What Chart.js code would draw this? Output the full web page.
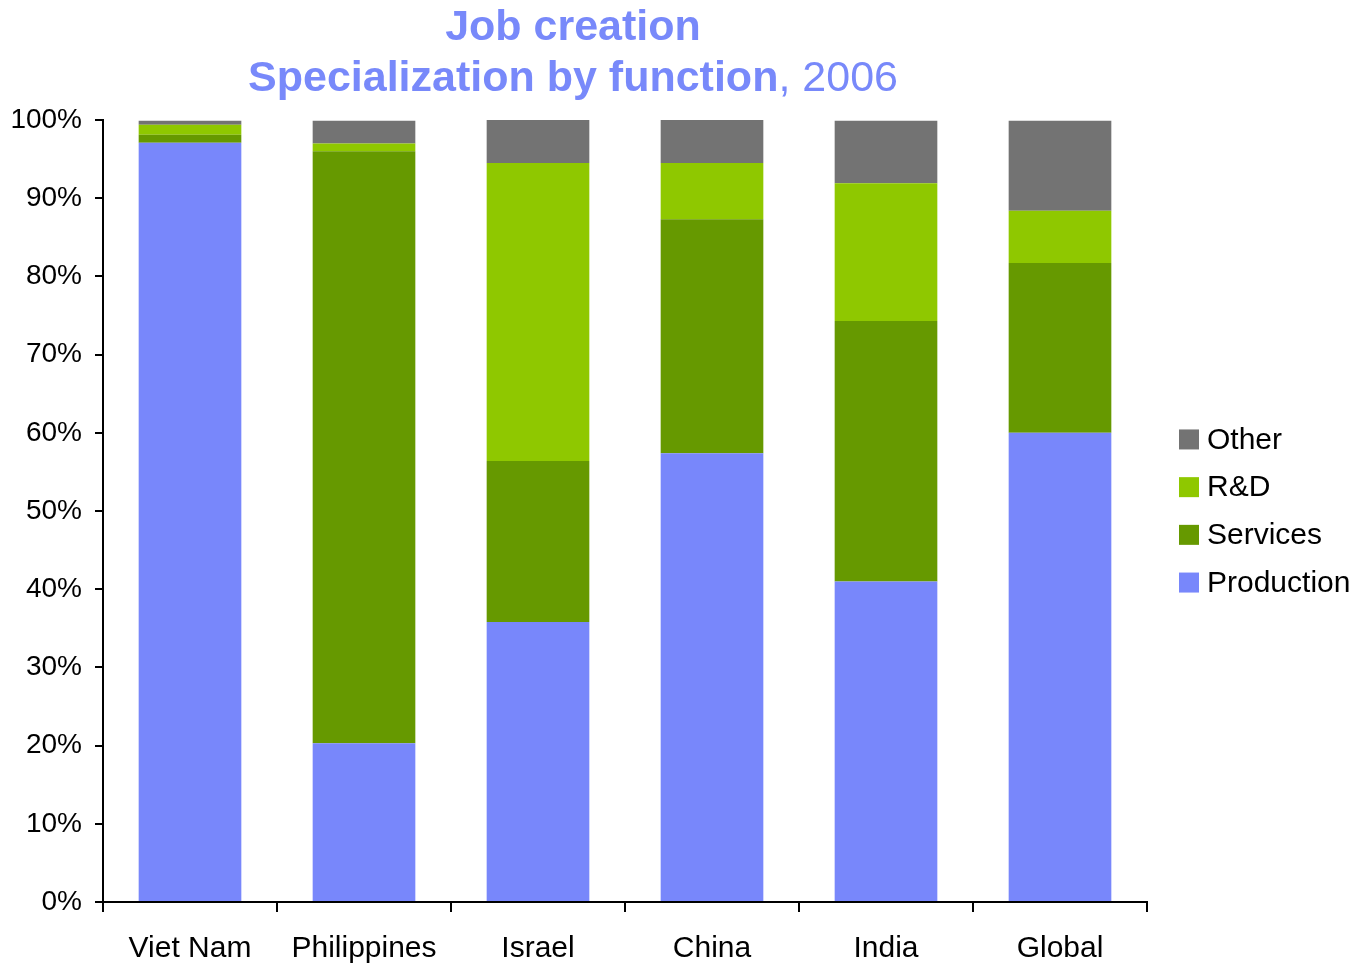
<!DOCTYPE html>
<html>
<head>
<meta charset="utf-8">
<title>Job creation</title>
<script src="https://cdn.jsdelivr.net/npm/chart.js@4/dist/chart.umd.min.js"></script>
<style>
  html, body { margin: 0; padding: 0; background: #fff; }
  #wrap { position: relative; width: 1371px; height: 965px; }
  #titulo {
    position: absolute; left: 0; top: 0; width: 1146px;
    text-align: center; color: #7889fa;
    font-family: "Liberation Sans", Arial, sans-serif;
    font-size: 43px; line-height: 51px;
  }
  #titulo b { font-weight: bold; }
  #titulo span { font-weight: normal; }
  canvas { position: absolute; left: 0; top: 0; }
</style>
</head>
<body>
<div id="wrap">
  <canvas id="chartFuncion" width="1371" height="965"></canvas>
  <div id="titulo"><b>Job creation</b><br><b>Specialization by function</b><span>, 2006</span></div>
</div>
<script>
// Categorías y series (% del empleo creado)
const paises     = ["Viet Nam", "Philippines", "Israel", "China", "India", "Global"];
const production = [97.1, 20.3, 35.8, 57.4, 41.0, 60.0];
const services   = [1.0, 75.7, 20.6, 29.9, 33.3, 21.7];
const rnd        = [1.3, 1.0, 38.1, 7.2, 17.6, 6.7];
const other      = [0.5, 2.9, 5.5, 5.5, 8.0, 11.5];
const yTicks     = [0, 10, 20, 30, 40, 50, 60, 70, 80, 90, 100];

const FONT = '"Liberation Sans", Arial, sans-serif';
Chart.defaults.font.family = FONT;
Chart.defaults.color = "#000";

// leyenda dibujada a mano a la derecha del área (orden inverso a las series)
const leyendaDerecha = {
  id: "leyendaDerecha",
  afterDraw(chart) {
    const { ctx, chartArea } = chart;
    const sets = chart.data.datasets.slice().reverse();
    const cy = (chartArea.top + chartArea.bottom) / 2;
    const x = chartArea.right + 32;
    ctx.save();
    ctx.font = "30px " + FONT;
    ctx.textBaseline = "middle";
    ctx.textAlign = "left";
    sets.forEach((ds, i) => {
      const y = cy + (i - 1.5) * 47.7;
      ctx.fillStyle = ds.backgroundColor;
      ctx.fillRect(x, y - 10, 20, 20);
      ctx.fillStyle = "#000";
      ctx.fillText(ds.label, x + 28, y + 1);
    });
    ctx.restore();
  }
};

const ds = (label, data, color) => ({
  label, data, backgroundColor: color,
  categoryPercentage: 1, barPercentage: 0.59, borderWidth: 0
});

new Chart(document.getElementById("chartFuncion").getContext("2d"), {
  type: "bar",
  data: {
    labels: paises,
    datasets: [
      ds("Production", production, "#7887fb"),
      ds("Services",   services,   "#669900"),
      ds("R&D",        rnd,        "#8fc800"),
      ds("Other",      other,      "#737373")
    ]
  },
  options: {
    responsive: false,
    animation: false,
    layout: { padding: { left: 0, right: 224, top: 120, bottom: 0 } },
    plugins: { legend: { display: false }, title: { display: false }, tooltip: { enabled: false } },
    scales: {
      x: {
        stacked: true,
        offset: true,
        afterFit: (s) => { s.height = 63; },
        border: { color: "#000", width: 2 },
        grid: { offset: true, drawOnChartArea: false, drawTicks: true, tickLength: 10, color: "#000", lineWidth: 2 },
        ticks: { font: { size: 30 }, color: "#000", padding: 19, maxRotation: 0 }
      },
      y: {
        stacked: true,
        min: 0, max: 100,
        afterFit: (s) => { s.width = 103; },
        afterBuildTicks: (axis) => { axis.ticks = yTicks.map(v => ({ value: v })); },
        border: { color: "#000", width: 2 },
        grid: { drawOnChartArea: false, drawTicks: true, tickLength: 8, color: "#000", lineWidth: 2 },
        ticks: { font: { size: 28 }, color: "#000", padding: 13, callback: (v) => v + "%" }
      }
    }
  },
  plugins: [leyendaDerecha]
});
</script>
</body>
</html>
